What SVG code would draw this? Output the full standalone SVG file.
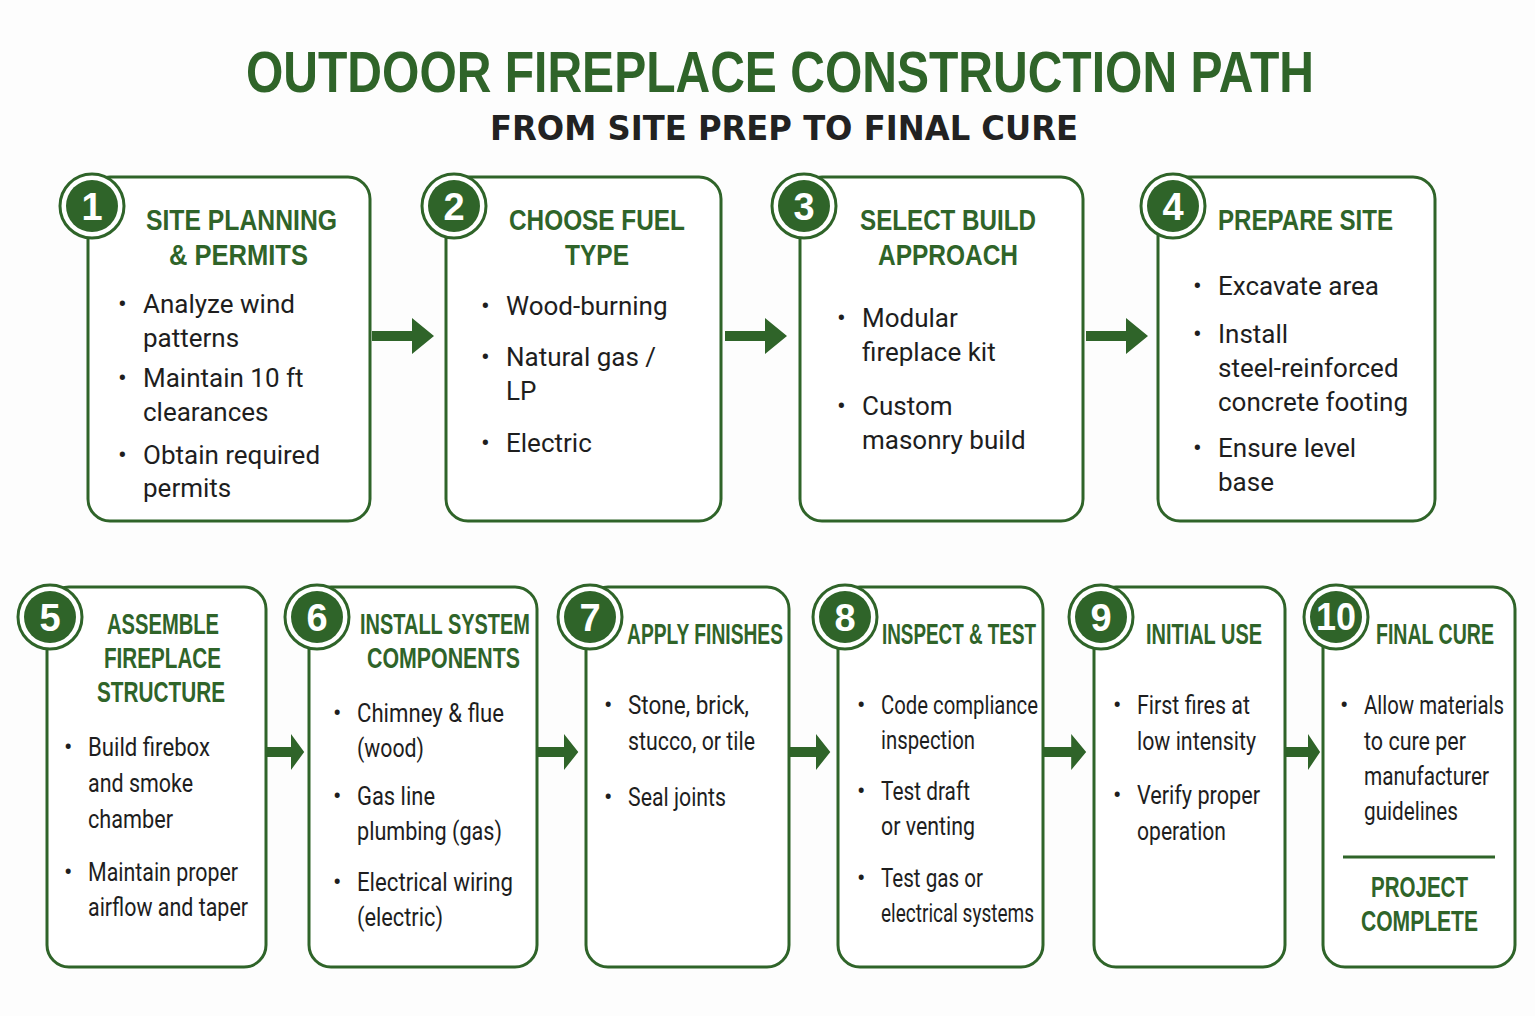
<svg xmlns="http://www.w3.org/2000/svg" width="1535" height="1016" viewBox="0 0 1535 1016">
<style>
.box{fill:#fff;stroke:#2f6429;stroke-width:3}
.c1{fill:#fff;stroke:#2f6429;stroke-width:3}
.c2{fill:#2f6429}
.num{font-family:"Liberation Sans",sans-serif;font-weight:bold;font-size:38px;fill:#fff;text-anchor:middle}
.h{font-family:"Liberation Sans",sans-serif;font-weight:bold;font-size:29px;fill:#2f6429}
.b{font-family:Roboto,"Liberation Sans",sans-serif;font-size:26px;fill:#1e1e1e}
.s{font-family:Roboto,"Liberation Sans",sans-serif;font-size:25px;fill:#1e1e1e}
.arr{fill:#2f6429}
</style>
<defs>
<path id="ar" d="M0,-5 H40 V-18 L62,0 L40,18 V5 H0 Z"/>
<g id="circ"><circle r="32" class="c1"/><circle r="26" class="c2"/></g>
</defs>
<rect width="1535" height="1016" fill="#fdfdfd"/>
<text x="246" y="92" textLength="1068" lengthAdjust="spacingAndGlyphs" font-family="Liberation Sans,sans-serif" font-weight="bold" font-size="58" fill="#2f6429">OUTDOOR FIREPLACE CONSTRUCTION PATH</text>
<text x="490" y="140" textLength="588" lengthAdjust="spacingAndGlyphs" font-family="DejaVu Sans,sans-serif" font-weight="bold" font-size="34" fill="#222">FROM SITE PREP TO FINAL CURE</text>

<g id="connectors">
<use href="#ar" x="372" y="336" class="arr"/>
<use href="#ar" x="725" y="336" class="arr"/>
<use href="#ar" x="1086" y="336" class="arr"/>
<use href="#ar" x="267" y="752" class="arr" transform="translate(267 752) scale(0.6 1) translate(-267 -752)"/>
<use href="#ar" x="538" y="752" class="arr" transform="translate(538 752) scale(0.65 1) translate(-538 -752)"/>
<use href="#ar" x="790" y="752" class="arr" transform="translate(790 752) scale(0.65 1) translate(-790 -752)"/>
<use href="#ar" x="1044" y="752" class="arr" transform="translate(1044 752) scale(0.68 1) translate(-1044 -752)"/>
<use href="#ar" x="1286" y="752" class="arr" transform="translate(1286 752) scale(0.55 1) translate(-1286 -752)"/>
</g>

<g id="n1">
<rect class="box" x="88" y="177" width="282" height="344" rx="22"/>
<use href="#circ" x="92" y="206"/><text class="num" x="92" y="220">1</text>
<text class="h" x="146" y="230" textLength="191" lengthAdjust="spacingAndGlyphs">SITE PLANNING</text><text class="h" x="169" y="265" textLength="139" lengthAdjust="spacingAndGlyphs">&amp; PERMITS</text>
<text class="b" x="118" y="313">•</text><text class="b" x="143" y="313">Analyze wind</text><text class="b" x="143" y="347">patterns</text>
<text class="b" x="118" y="387">•</text><text class="b" x="143" y="387">Maintain 10 ft</text><text class="b" x="143" y="421">clearances</text>
<text class="b" x="118" y="464">•</text><text class="b" x="143" y="464">Obtain required</text><text class="b" x="143" y="497">permits</text>
</g>
<g id="n2">
<rect class="box" x="446" y="177" width="275" height="344" rx="22"/>
<use href="#circ" x="454" y="206"/><text class="num" x="454" y="220">2</text>
<text class="h" x="509" y="230" textLength="176" lengthAdjust="spacingAndGlyphs">CHOOSE FUEL</text><text class="h" x="565" y="265" textLength="64" lengthAdjust="spacingAndGlyphs">TYPE</text>
<text class="b" x="481" y="315">•</text><text class="b" x="506" y="315">Wood-burning</text>
<text class="b" x="481" y="366">•</text><text class="b" x="506" y="366">Natural gas /</text><text class="b" x="506" y="400">LP</text>
<text class="b" x="481" y="452">•</text><text class="b" x="506" y="452">Electric</text>
</g>
<g id="n3">
<rect class="box" x="800" y="177" width="283" height="344" rx="22"/>
<use href="#circ" x="804" y="206"/><text class="num" x="804" y="220">3</text>
<text class="h" x="860" y="230" textLength="176" lengthAdjust="spacingAndGlyphs">SELECT BUILD</text><text class="h" x="878" y="265" textLength="140" lengthAdjust="spacingAndGlyphs">APPROACH</text>
<text class="b" x="837" y="327">•</text><text class="b" x="862" y="327">Modular</text><text class="b" x="862" y="361">fireplace kit</text>
<text class="b" x="837" y="415">•</text><text class="b" x="862" y="415">Custom</text><text class="b" x="862" y="449">masonry build</text>
</g>
<g id="n4">
<rect class="box" x="1158" y="177" width="277" height="344" rx="22"/>
<use href="#circ" x="1173" y="206"/><text class="num" x="1173" y="220">4</text>
<text class="h" x="1218" y="230" textLength="175" lengthAdjust="spacingAndGlyphs">PREPARE SITE</text>
<text class="b" x="1193" y="295">•</text><text class="b" x="1218" y="295">Excavate area</text>
<text class="b" x="1193" y="343">•</text><text class="b" x="1218" y="343">Install</text><text class="b" x="1218" y="377">steel-reinforced</text><text class="b" x="1218" y="411">concrete footing</text>
<text class="b" x="1193" y="457">•</text><text class="b" x="1218" y="457">Ensure level</text><text class="b" x="1218" y="491">base</text>
</g>

<g id="n5">
<rect class="box" x="47" y="587" width="219" height="380" rx="22"/>
<use href="#circ" x="50" y="617"/><text class="num" x="50" y="631">5</text>
<text class="h" x="107" y="634" textLength="112" lengthAdjust="spacingAndGlyphs">ASSEMBLE</text><text class="h" x="104" y="668" textLength="117" lengthAdjust="spacingAndGlyphs">FIREPLACE</text><text class="h" x="97" y="702" textLength="128" lengthAdjust="spacingAndGlyphs">STRUCTURE</text>
<text class="s" x="64" y="756">•</text><text class="s" x="88" y="756" textLength="122" lengthAdjust="spacingAndGlyphs">Build firebox</text><text class="s" x="88" y="792" textLength="105" lengthAdjust="spacingAndGlyphs">and smoke</text><text class="s" x="88" y="828" textLength="85" lengthAdjust="spacingAndGlyphs">chamber</text>
<text class="s" x="64" y="881">•</text><text class="s" x="88" y="881" textLength="150" lengthAdjust="spacingAndGlyphs">Maintain proper</text><text class="s" x="88" y="916" textLength="160" lengthAdjust="spacingAndGlyphs">airflow and taper</text>
</g>
<g id="n6">
<rect class="box" x="309" y="587" width="228" height="380" rx="22"/>
<use href="#circ" x="317" y="617"/><text class="num" x="317" y="631">6</text>
<text class="h" x="360" y="634" textLength="170" lengthAdjust="spacingAndGlyphs">INSTALL SYSTEM</text><text class="h" x="367" y="668" textLength="153" lengthAdjust="spacingAndGlyphs">COMPONENTS</text>
<text class="s" x="333" y="722">•</text><text class="s" x="357" y="722" textLength="147" lengthAdjust="spacingAndGlyphs">Chimney &amp; flue</text><text class="s" x="357" y="757" textLength="67" lengthAdjust="spacingAndGlyphs">(wood)</text>
<text class="s" x="333" y="805">•</text><text class="s" x="357" y="805" textLength="78" lengthAdjust="spacingAndGlyphs">Gas line</text><text class="s" x="357" y="840" textLength="145" lengthAdjust="spacingAndGlyphs">plumbing (gas)</text>
<text class="s" x="333" y="891">•</text><text class="s" x="357" y="891" textLength="156" lengthAdjust="spacingAndGlyphs">Electrical wiring</text><text class="s" x="357" y="926" textLength="86" lengthAdjust="spacingAndGlyphs">(electric)</text>
</g>
<g id="n7">
<rect class="box" x="586" y="587" width="203" height="380" rx="22"/>
<use href="#circ" x="590" y="617"/><text class="num" x="590" y="631">7</text>
<text class="h" x="627" y="644" textLength="156" lengthAdjust="spacingAndGlyphs">APPLY FINISHES</text>
<text class="s" x="604" y="714">•</text><text class="s" x="628" y="714" textLength="121" lengthAdjust="spacingAndGlyphs">Stone, brick,</text><text class="s" x="628" y="750" textLength="127" lengthAdjust="spacingAndGlyphs">stucco, or tile</text>
<text class="s" x="604" y="806">•</text><text class="s" x="628" y="806" textLength="98" lengthAdjust="spacingAndGlyphs">Seal joints</text>
</g>
<g id="n8">
<rect class="box" x="838" y="587" width="205" height="380" rx="22"/>
<use href="#circ" x="845" y="617"/><text class="num" x="845" y="631">8</text>
<text class="h" x="882" y="644" textLength="154" lengthAdjust="spacingAndGlyphs">INSPECT &amp; TEST</text>
<text class="s" x="857" y="714">•</text><text class="s" x="881" y="714" textLength="157" lengthAdjust="spacingAndGlyphs">Code compliance</text><text class="s" x="881" y="749" textLength="94" lengthAdjust="spacingAndGlyphs">inspection</text>
<text class="s" x="857" y="800">•</text><text class="s" x="881" y="800" textLength="89" lengthAdjust="spacingAndGlyphs">Test draft</text><text class="s" x="881" y="835" textLength="94" lengthAdjust="spacingAndGlyphs">or venting</text>
<text class="s" x="857" y="887">•</text><text class="s" x="881" y="887" textLength="102" lengthAdjust="spacingAndGlyphs">Test gas or</text><text class="s" x="881" y="922" textLength="153" lengthAdjust="spacingAndGlyphs">electrical systems</text>
</g>
<g id="n9">
<rect class="box" x="1094" y="587" width="191" height="380" rx="22"/>
<use href="#circ" x="1101" y="617"/><text class="num" x="1101" y="631">9</text>
<text class="h" x="1146" y="644" textLength="116" lengthAdjust="spacingAndGlyphs">INITIAL USE</text>
<text class="s" x="1113" y="714">•</text><text class="s" x="1137" y="714" textLength="113" lengthAdjust="spacingAndGlyphs">First fires at</text><text class="s" x="1137" y="750" textLength="119" lengthAdjust="spacingAndGlyphs">low intensity</text>
<text class="s" x="1113" y="804">•</text><text class="s" x="1137" y="804" textLength="123" lengthAdjust="spacingAndGlyphs">Verify proper</text><text class="s" x="1137" y="840" textLength="89" lengthAdjust="spacingAndGlyphs">operation</text>
</g>
<g id="n10">
<rect class="box" x="1323" y="587" width="192" height="380" rx="22"/>
<use href="#circ" x="1336" y="617"/><text class="num" x="1336" y="630" textLength="40" lengthAdjust="spacingAndGlyphs">10</text>
<text class="h" x="1376" y="644" textLength="118" lengthAdjust="spacingAndGlyphs">FINAL CURE</text>
<text class="s" x="1340" y="714">•</text><text class="s" x="1364" y="714" textLength="140" lengthAdjust="spacingAndGlyphs">Allow materials</text><text class="s" x="1364" y="750" textLength="102" lengthAdjust="spacingAndGlyphs">to cure per</text><text class="s" x="1364" y="785" textLength="125" lengthAdjust="spacingAndGlyphs">manufacturer</text><text class="s" x="1364" y="820" textLength="94" lengthAdjust="spacingAndGlyphs">guidelines</text>
<line x1="1343" y1="857" x2="1495" y2="857" stroke="#2f6429" stroke-width="3"/>
<text class="h" x="1371" y="897" textLength="97" lengthAdjust="spacingAndGlyphs">PROJECT</text><text class="h" x="1361" y="931" textLength="117" lengthAdjust="spacingAndGlyphs">COMPLETE</text>
</g>
</svg>
